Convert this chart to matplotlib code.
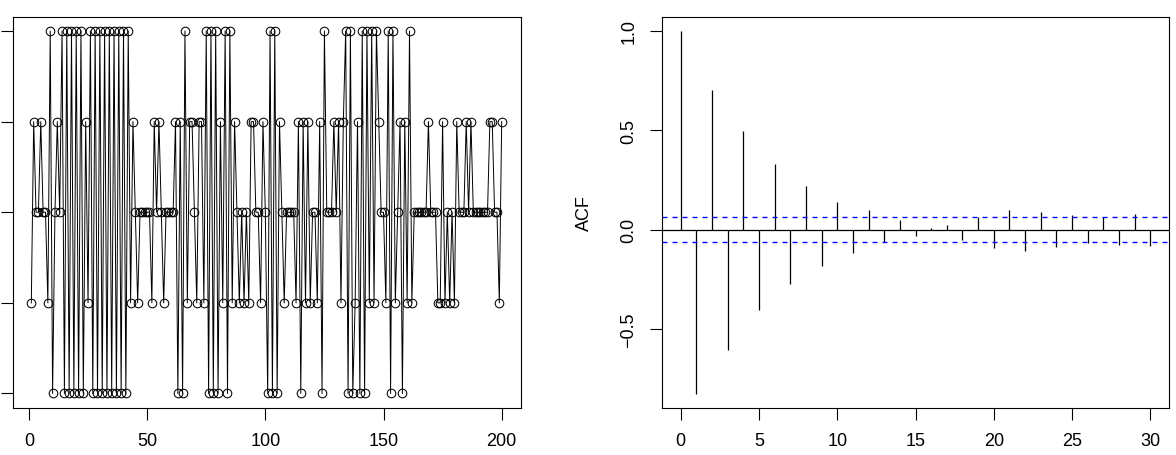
import numpy as np
import matplotlib
matplotlib.use('Agg')
import matplotlib.pyplot as plt

plt.rcParams['font.family'] = ['Liberation Sans', 'DejaVu Sans']

# series, time index 1..200
series = [
    -1, 1, 0, 0, 1, 0, 0, -1, 2, -2,
    0, 1, 0, 2, -2, 2, -2, 2, -2, 2,
    -2, 2, -2, 1, -1, 2, -2, 2, -2, 2,
    -2, 2, -2, 2, -2, 2, -2, 2, -2, 2,
    -2, 2, -1, 1, 0, -1, 0, 0, 0, 0,
    0, -1, 1, 0, 1, 0, -1, 0, 0, 0,
    0, 1, -2, 1, -2, 2, -1, 1, 1, 0,
    -1, 1, 1, -1, 2, -2, 2, -2, 2, -2,
    1, -1, 2, -2, 2, -1, 1, 0, -1, 0,
    -1, 0, -1, 1, 1, 0, 0, -1, 1, 0,
    -2, 2, -2, 2, -2, 1, 0, -1, 0, 0,
    0, 0, -1, 1, -2, 1, -1, 1, -1, 0,
    0, -1, 1, -2, 2, 0, 0, 0, 1, 0,
    1, -1, 1, 2, -2, 2, -2, -1, 1, -2,
    2, -2, 2, -1, 2, -1, 2, 1, 0, 0,
    -1, 2, -2, 2, -1, 0, 1, -2, 1, -1,
    2, -1, 0, 0, 0, 0, 0, 0, 1, 0,
    0, 0, -1, -1, 1, -1, 0, -1, 0, -1,
    1, 0, 0, 0, 1, 0, 1, 0, 0, 0,
    0, 0, 0, 0, 1, 1, 0, 0, -1, 1,
]
time_idx = list(range(1, len(series) + 1))

# autocorrelations, lags 0..30
lags = list(range(31))
acf_vals = [
    1.0, -0.826, 0.703, -0.606, 0.497, -0.407, 0.332, -0.276, 0.221, -0.183,
    0.139, -0.117, 0.100, -0.064, 0.050, -0.034, 0.008, 0.025, -0.054, 0.062,
    -0.092, 0.100, -0.109, 0.089, -0.087, 0.075, -0.070, 0.062, -0.079, 0.079,
    -0.084,
]
conf_bound = 0.062

W, H = 1176, 456
fig = plt.figure(figsize=(W / 100, H / 100), dpi=100)
bottom = 1 - 409 / H
height = 391.5 / H
ax1 = fig.add_axes([12.5 / W, bottom, 508 / W, height])
ax2 = fig.add_axes([662 / W, bottom, 507 / W, height])

for ax in (ax1, ax2):
    for s in ax.spines.values():
        s.set_linewidth(0.8)
        s.set_color('black')
    ax.tick_params(direction='out', length=8.6, width=0.8, labelsize=13,
                   pad=9, colors='black')

# left: series with lines and open circles
ax1.plot(time_idx, series, color='black', lw=0.7, marker='o', ms=6.2,
         mfc='none', mec='black', mew=0.75)
ax1.set_xlim(-6.96, 207.96)
ax1.set_ylim(-2.16, 2.16)
ax1.set_xticks([0, 50, 100, 150, 200])
ax1.set_yticks([-2, -1, 0, 1, 2])
ax1.set_yticklabels([])

# right: ACF spikes with confidence bounds
ax2.vlines(lags, 0, acf_vals, color='black', lw=0.9)
ax2.axhline(0, color='black', lw=0.9)
ax2.axhline(conf_bound, color='blue', lw=1.0, ls=(0, (3.6, 3.6)))
ax2.axhline(-conf_bound, color='blue', lw=1.0, ls=(0, (3.6, 3.6)))
ax2.set_xlim(-1.2, 31.2)
ax2.set_ylim(-0.899, 1.073)
ax2.set_xticks([0, 5, 10, 15, 20, 25, 30])
ax2.set_yticks([-0.5, 0.0, 0.5, 1.0])
ax2.set_yticklabels(['\u22120.5', '0.0', '0.5', '1.0'], rotation=90, va='center')
ax2.tick_params(axis='y', pad=9)
ax2.set_ylabel('ACF', fontsize=13, labelpad=20)

fig.savefig('out.png', dpi=100)
